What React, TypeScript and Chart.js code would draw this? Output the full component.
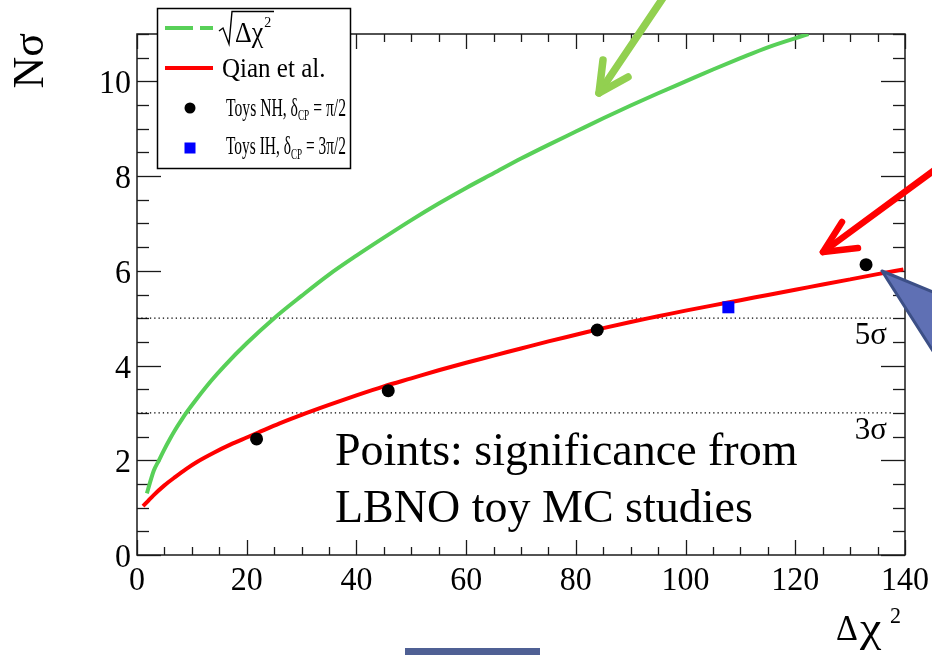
import React, { useEffect, useRef } from "react";
import { Chart, registerables } from "chart.js";

Chart.register(...registerables);

// ---- data ----
const sqrtX = [1.8, 2.5, 3.05, 4, 4.85, 6, 7, 8, 9.1, 10.9, 13.6, 16, 20, 25, 30, 35, 40, 45, 50, 55, 60, 65, 70, 75, 80, 85, 90, 95, 100, 105, 110, 115, 122.4];
const sqrtY = [1.3, 1.58, 1.78, 2.0, 2.2, 2.45, 2.65, 2.83, 3.02, 3.3, 3.69, 4.0, 4.47, 5.0, 5.47, 5.92, 6.32, 6.7, 7.07, 7.42, 7.75, 8.06, 8.37, 8.66, 8.94, 9.22, 9.49, 9.75, 10.0, 10.25, 10.49, 10.72, 11.0];

const qianX = [1.1, 2, 3, 5, 7, 9, 11, 14, 17, 20, 22, 26, 30, 35, 40, 45, 50, 55, 60, 65, 70, 75, 80, 85, 90, 95, 100, 105, 110, 115, 120, 125, 130, 135, 139.7];
const qianY = [1.03, 1.14, 1.26, 1.47, 1.65, 1.82, 1.97, 2.16, 2.33, 2.48, 2.58, 2.78, 2.96, 3.17, 3.37, 3.56, 3.73, 3.9, 4.06, 4.21, 4.36, 4.51, 4.65, 4.79, 4.92, 5.04, 5.16, 5.27, 5.38, 5.49, 5.6, 5.71, 5.82, 5.93, 6.03];

const nhX = [21.8, 45.8, 83.9, 132.9];
const nhY = [2.45, 3.47, 4.75, 6.13];

const ihX = [107.8];
const ihY = [5.23];

const sigmaLevels = [3, 5];
const sigmaLabels = ["3σ", "5σ"];
const sigmaLineX = [0, 137.8];

const xTicks = [0, 20, 40, 60, 80, 100, 120, 140];
const yTicks = [0, 2, 4, 6, 8, 10];
const xMinorStep = 5;
const yMinorStep = 0.5;
const xRange = [0, 140];
const yRange = [0, 11];

const legendLabels = ["Qian et al.", "Toys NH, δ", "Toys IH, δ"];
const legendTails = ["", " = π/2", " = 3π/2"];
const noteLines = ["Points: significance from", "LBNO toy MC studies"];

const GREEN = "#58d058";
const RED = "#ff0000";
const SERIF = "'Liberation Serif', 'Times New Roman', serif";

function seg(ctx: CanvasRenderingContext2D, x1: number, y1: number, x2: number, y2: number) {
  ctx.beginPath();
  ctx.moveTo(x1, y1);
  ctx.lineTo(x2, y2);
  ctx.stroke();
}

function text(
  ctx: CanvasRenderingContext2D,
  t: string,
  x: number,
  y: number,
  size: number,
  align: CanvasTextAlign = "left",
  sy = 1,
  sx = 1
) {
  ctx.save();
  ctx.translate(x, y);
  ctx.scale(sx, sy);
  ctx.font = `${size}px ${SERIF}`;
  ctx.textAlign = align;
  ctx.textBaseline = "alphabetic";
  ctx.fillText(t, 0, 0);
  const w = ctx.measureText(t).width * sx;
  ctx.restore();
  return w;
}

function measure(ctx: CanvasRenderingContext2D, t: string, size: number) {
  ctx.save();
  ctx.font = `${size}px ${SERIF}`;
  const w = ctx.measureText(t).width;
  ctx.restore();
  return w;
}

function legendEntry(ctx: CanvasRenderingContext2D, main: string, tail: string, x: number, y: number, targetW: number) {
  const big = 22;
  const small = 13;
  const natural = measure(ctx, main, big) + measure(ctx, "CP", small) + measure(ctx, tail, big);
  const sx = Math.min(1, targetW / natural);
  let cx = x;
  cx += text(ctx, main, cx, y, big, "left", 1.15, sx);
  cx += text(ctx, "CP", cx, y + 4.5, small, "left", 1.1, sx);
  text(ctx, tail, cx, y, big, "left", 1.15, sx);
}

function arrow(ctx: CanvasRenderingContext2D, color: string, width: number, pts: number[][]) {
  ctx.save();
  ctx.strokeStyle = color;
  ctx.lineWidth = width;
  ctx.lineCap = "round";
  ctx.lineJoin = "round";
  const [s, tip, a1, a2] = pts;
  seg(ctx, s[0], s[1], tip[0], tip[1]);
  ctx.beginPath();
  ctx.moveTo(a1[0], a1[1]);
  ctx.lineTo(tip[0], tip[1]);
  ctx.lineTo(a2[0], a2[1]);
  ctx.stroke();
  ctx.restore();
}

const decor = {
  id: "decor",
  beforeDatasetsDraw(chart: any) {
    const { ctx, chartArea: a, scales } = chart;
    const xs = scales.x;
    const ys = scales.y;
    ctx.save();
    ctx.strokeStyle = "#1a1a1a";
    ctx.lineWidth = 1.5;
    ctx.strokeRect(a.left, a.top, a.right - a.left, a.bottom - a.top);
    ctx.lineWidth = 1.3;
    for (let v = xRange[0]; v <= xRange[1] + 1e-9; v += xMinorStep) {
      const px = Math.round(xs.getPixelForValue(v)) + 0.5;
      const major = xTicks.includes(v);
      const len = major ? 15 : 8;
      seg(ctx, px, a.bottom, px, a.bottom - len);
      seg(ctx, px, a.top, px, a.top + len);
    }
    for (let v = yRange[0]; v <= yRange[1] + 1e-9; v += yMinorStep) {
      const py = Math.round(ys.getPixelForValue(v)) + 0.5;
      const major = yTicks.includes(v);
      const len = major ? 24 : 12;
      seg(ctx, a.left, py, a.left + len, py);
      seg(ctx, a.right, py, a.right - len, py);
    }
    ctx.restore();
  },
  afterDraw(chart: any) {
    const { ctx, chartArea: a, scales } = chart;
    const xs = scales.x;
    const ys = scales.y;
    ctx.save();
    ctx.fillStyle = "#000";
    // tick labels
    xTicks.forEach((v) => {
      text(ctx, String(v), xs.getPixelForValue(v), a.bottom + 35, 32, "center", 1.06);
    });
    yTicks.forEach((v) => {
      text(ctx, String(v), a.left - 6, ys.getPixelForValue(v) + 12, 32, "right", 1.06);
    });
    // axis titles
    text(ctx, "Δ", 836, 640, 34, "left", 1.05);
    text(ctx, "χ", 860, 641, 40, "left", 1.0, 1.2);
    text(ctx, "2", 890, 623, 22, "left", 1.05);

    ctx.save();
    ctx.translate(43, 33);
    ctx.rotate(-Math.PI / 2);
    ctx.font = `44px ${SERIF}`;
    ctx.textAlign = "right";
    ctx.fillText("Nσ", 0, 0);
    ctx.restore();

    // sigma labels
    sigmaLevels.forEach((lv, i) => {
      text(ctx, sigmaLabels[i], 887, ys.getPixelForValue(lv) + 26, 31, "right", 1.05);
    });

    // note text
    text(ctx, noteLines[0], 335, 465, 46);
    text(ctx, noteLines[1], 335, 522, 46);

    // legend
    ctx.fillStyle = "#fff";
    ctx.fillRect(157, 8, 193, 160);
    ctx.strokeStyle = "#000";
    ctx.lineWidth = 1.5;
    ctx.strokeRect(157.5, 8.5, 193, 160);

    // entry 1 : green dashed + sqrt
    ctx.strokeStyle = GREEN;
    ctx.lineWidth = 4;
    ctx.setLineDash([28, 7]);
    seg(ctx, 165, 28, 213, 28);
    ctx.setLineDash([]);
    ctx.strokeStyle = "#000";
    ctx.lineWidth = 1.4;
    ctx.beginPath();
    ctx.moveTo(219, 31);
    ctx.lineTo(223, 28);
    ctx.lineTo(229, 44);
    ctx.lineTo(232, 11.5);
    ctx.lineTo(274, 11.5);
    ctx.stroke();
    ctx.fillStyle = "#000";
    const wdc = text(ctx, "Δχ", 235, 42, 26, "left", 1.1);
    text(ctx, "2", 235 + wdc + 1, 27, 14, "left");

    // entry 2 : red line
    ctx.strokeStyle = RED;
    ctx.lineWidth = 4;
    seg(ctx, 165, 68, 213, 68);
    text(ctx, legendLabels[0], 222, 76.5, 25, "left", 1.12);

    // entry 3 : black dot
    ctx.fillStyle = "#000";
    ctx.beginPath();
    ctx.arc(190, 108, 5.5, 0, Math.PI * 2);
    ctx.fill();
    legendEntry(ctx, legendLabels[1], legendTails[1], 226, 115.5, 120);

    // entry 4 : blue square
    ctx.fillStyle = "#0000ff";
    ctx.fillRect(184.5, 142.5, 11, 11);
    ctx.fillStyle = "#000";
    legendEntry(ctx, legendLabels[2], legendTails[2], 226, 154, 120);

    // arrows
    arrow(ctx, "#92d050", 7.5, [[663, -2], [599, 93], [603, 60], [628, 77]]);
    arrow(ctx, RED, 6.5, [[940, 166], [823, 252], [842, 222], [858, 248]]);

    // callout
    ctx.fillStyle = "#5f70b4";
    ctx.strokeStyle = "#3c4f86";
    ctx.lineWidth = 3;
    ctx.lineJoin = "round";
    ctx.beginPath();
    ctx.moveTo(882, 271);
    ctx.lineTo(945, 297);
    ctx.lineTo(945, 370);
    ctx.closePath();
    ctx.fill();
    ctx.stroke();

    // bottom bar
    ctx.fillStyle = "#4f6094";
    ctx.fillRect(405, 648, 135, 8);
    ctx.restore();
  },
};

export default function App() {
  const ref = useRef<HTMLCanvasElement | null>(null);
  useEffect(() => {
    if (!ref.current) return;
    const pts = (xs: number[], ys: number[]) => xs.map((x, i) => ({ x, y: ys[i] }));
    const chart = new Chart(ref.current, {
      type: "scatter",
      data: {
        datasets: [
          {
            label: "Toys NH",
            data: pts(nhX, nhY),
            pointRadius: 6.5,
            pointBackgroundColor: "#000",
            pointBorderWidth: 0,
            showLine: false,
            order: 0,
          },
          {
            label: "Toys IH",
            data: pts(ihX, ihY),
            pointStyle: "rect",
            pointRadius: 8.5,
            pointBackgroundColor: "#0000ff",
            pointBorderWidth: 0,
            showLine: false,
            order: 0,
          },
          {
            label: "sqrt",
            data: pts(sqrtX, sqrtY),
            showLine: true,
            borderColor: GREEN,
            borderWidth: 4,
            pointRadius: 0,
            cubicInterpolationMode: "monotone",
            order: 1,
          },
          {
            label: "Qian et al.",
            data: pts(qianX, qianY),
            showLine: true,
            borderColor: RED,
            borderWidth: 4,
            pointRadius: 0,
            cubicInterpolationMode: "monotone",
            order: 1,
          },
          ...sigmaLevels.map((lv) => ({
            label: `${lv} sigma`,
            data: sigmaLineX.map((x) => ({ x, y: lv })),
            showLine: true,
            borderColor: "#000",
            borderWidth: 1.2,
            borderDash: [1.3, 3],
            pointRadius: 0,
            order: 2,
          })),
        ] as any,
      },
      options: {
        responsive: false,
        animation: false,
        devicePixelRatio: 1,
        events: [],
        layout: { padding: { left: 137, right: 27, top: 34, bottom: 100 } },
        scales: {
          x: { type: "linear", min: xRange[0], max: xRange[1], display: false },
          y: { type: "linear", min: yRange[0], max: yRange[1], display: false },
        },
        plugins: { legend: { display: false }, tooltip: { enabled: false } },
      },
      plugins: [decor],
    });
    return () => chart.destroy();
  }, []);
  return (
    <div style={{ position: "fixed", left: 0, top: 0, width: 932, height: 655, background: "#fff" }}>
      <canvas ref={ref} width={932} height={655} style={{ width: 932, height: 655, display: "block" }} />
    </div>
  );
}
